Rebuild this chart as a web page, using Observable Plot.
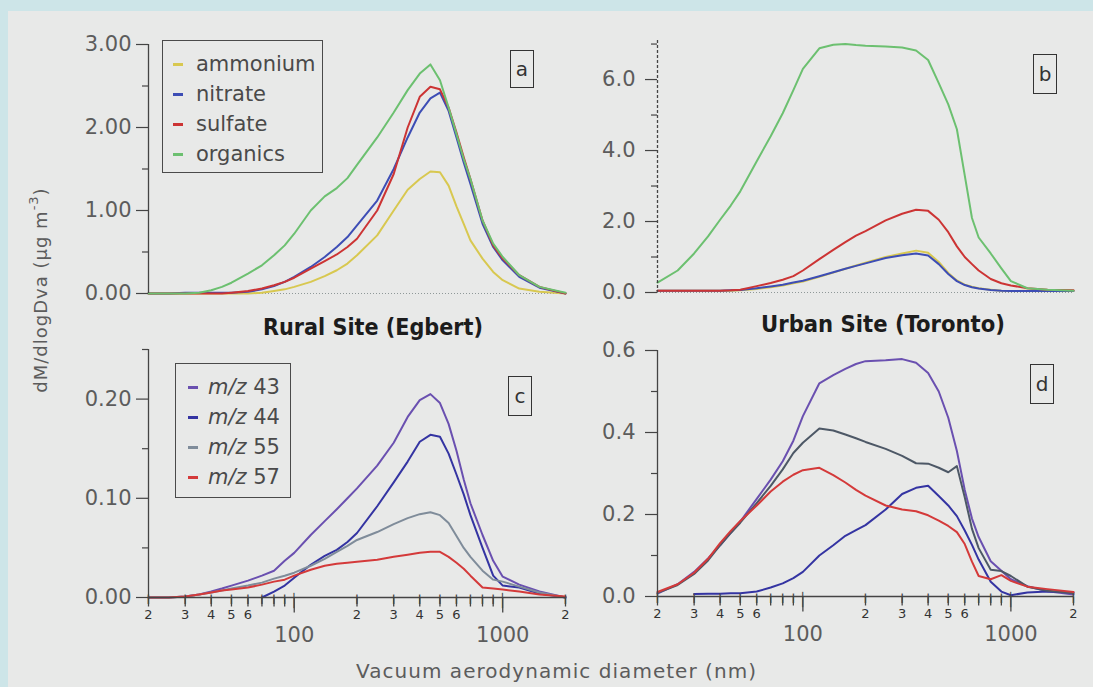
<!DOCTYPE html>
<html>
<head>
<meta charset="utf-8">
<script src="https://cdn.jsdelivr.net/npm/d3@7"></script>
<script src="https://cdn.jsdelivr.net/npm/@observablehq/plot@0.6"></script>
<style>
  html, body { margin: 0; padding: 0; background: #cde5e8; }
  #wrap { position: relative; width: 1093px; height: 687px; overflow: hidden; }
  #inner { position: absolute; left: 8px; top: 11px; right: 0; bottom: 0; background: #e8e9e8; }
  .panel { position: absolute; }
  .legend { position: absolute; border: 1.5px solid #4a4a4a; box-sizing: border-box;
            font-family: "DejaVu Sans", sans-serif; font-size: 21px; color: #4a4a4a; }
  .row { position: absolute; left: 0; height: 30px; line-height: 30px; white-space: nowrap; }
  .dash { position: absolute; top: 14px; width: 10px; height: 3px; }
  .tag { position: absolute; border: 1.5px solid #333; box-sizing: border-box;
         font-family: "DejaVu Sans", sans-serif; font-size: 20px; color: #333;
         display: flex; align-items: center; justify-content: center; }
  #ov { position: absolute; left: 0; top: 0; pointer-events: none; }
</style>
</head>
<body>
<div id="wrap">
  <div id="inner"></div>
</div>
<script>
// ---------------- data ----------------
const diam = [20,25,30,35,40,45,50,60,70,80,90,100,120,140,160,180,200,250,300,350,400,450,500,550,600,650,700,800,900,1000,1200,1500,2000];

// panel a : Rural site (Egbert), species
const speciesNames = ["ammonium", "nitrate", "sulfate", "organics"];
const speciesColors = ["#d8c850", "#3d4db5", "#cc3434", "#6cc070"];
const ammoniumA = [0,0,0,0,0,0,0,0,0.01,0.03,0.05,0.08,0.14,0.21,0.28,0.36,0.46,0.70,1.00,1.25,1.38,1.47,1.46,1.30,1.05,0.84,0.64,0.42,0.26,0.16,0.06,0.02,0];
const nitrateA  = [0,0,0.01,0.01,0.01,0.01,0.01,0.02,0.05,0.09,0.14,0.20,0.32,0.44,0.56,0.68,0.82,1.12,1.50,1.88,2.18,2.35,2.42,2.20,1.88,1.58,1.32,0.84,0.56,0.40,0.20,0.07,0];
const sulfateA  = [0,0,0,0,0,0,0.01,0.03,0.06,0.10,0.14,0.19,0.30,0.39,0.47,0.56,0.66,1.00,1.44,2.00,2.37,2.49,2.46,2.24,1.94,1.64,1.38,0.88,0.58,0.42,0.22,0.08,0];
const organicsA = [0,0,0,0.01,0.04,0.08,0.13,0.24,0.34,0.46,0.58,0.72,1.00,1.17,1.27,1.39,1.55,1.88,2.18,2.45,2.65,2.76,2.57,2.24,1.92,1.62,1.38,0.88,0.60,0.44,0.22,0.08,0.01];

// panel b : Urban site (Toronto), species
const ammoniumB = [0.05,0.05,0.05,0.05,0.05,0.05,0.06,0.10,0.15,0.20,0.26,0.31,0.44,0.56,0.67,0.76,0.84,1.00,1.10,1.18,1.12,0.86,0.55,0.34,0.22,0.16,0.12,0.08,0.05,0.04,0.05,0.06,0.05];
const nitrateB  = [0.05,0.05,0.05,0.05,0.05,0.06,0.07,0.12,0.17,0.22,0.28,0.33,0.46,0.57,0.67,0.75,0.82,0.97,1.05,1.10,1.04,0.80,0.52,0.32,0.21,0.15,0.11,0.07,0.05,0.04,0.04,0.04,0.04];
const sulfateB  = [0.05,0.05,0.05,0.05,0.05,0.06,0.08,0.18,0.27,0.36,0.46,0.62,0.94,1.20,1.42,1.60,1.73,2.03,2.22,2.33,2.30,2.05,1.70,1.30,1.00,0.80,0.62,0.38,0.26,0.20,0.12,0.08,0.06];
const organicsB = [0.28,0.62,1.10,1.58,2.05,2.45,2.85,3.70,4.40,5.05,5.70,6.30,6.88,6.98,7.00,6.97,6.95,6.93,6.90,6.82,6.55,5.90,5.30,4.60,3.30,2.10,1.55,1.10,0.68,0.32,0.12,0.08,0.05];

// panel c : Rural site, m/z fragments
const fragNames = ["m/z 43", "m/z 44", "m/z 55", "m/z 57"];
const fragColorsC = ["#6a50b0", "#3434a2", "#7f8c9a", "#d43a3a"];
const fragColorsD = ["#6a50b0", "#3434a2", "#4d5866", "#d43a3a"];
const mz43C = [0,0,0.001,0.003,0.006,0.009,0.012,0.017,0.022,0.027,0.037,0.045,0.063,0.077,0.089,0.100,0.110,0.133,0.156,0.182,0.199,0.205,0.196,0.175,0.148,0.119,0.095,0.063,0.037,0.021,0.013,0.006,0];
const mz44C = [null,null,null,null,null,null,null,null,0.0,0.006,0.012,0.020,0.033,0.042,0.048,0.056,0.065,0.092,0.116,0.137,0.157,0.164,0.162,0.145,0.124,0.104,0.083,0.050,0.022,0.012,0.010,0.004,0];
const mz55C = [0,0,0.001,0.003,0.005,0.007,0.009,0.012,0.015,0.019,0.022,0.025,0.032,0.039,0.046,0.052,0.058,0.066,0.074,0.080,0.084,0.086,0.083,0.075,0.062,0.050,0.041,0.027,0.018,0.016,0.011,0.005,0];
const mz57C = [0,0,0.001,0.003,0.005,0.007,0.008,0.010,0.013,0.016,0.018,0.022,0.028,0.032,0.034,0.035,0.036,0.038,0.041,0.043,0.045,0.046,0.046,0.041,0.035,0.029,0.022,0.010,0.009,0.008,0.006,0.003,0.001];

// panel d : Urban site, m/z fragments
const mz43D = [0.007,0.030,0.060,0.093,0.125,0.155,0.183,0.238,0.285,0.330,0.380,0.440,0.520,0.540,0.555,0.567,0.574,0.576,0.579,0.570,0.545,0.500,0.436,0.355,0.260,0.190,0.145,0.086,0.063,0.042,0.025,0.013,0.005];
const mz44D = [null,null,0.006,0.007,0.007,0.008,0.008,0.012,0.022,0.032,0.045,0.060,0.100,0.125,0.148,0.162,0.174,0.212,0.250,0.265,0.270,0.245,0.222,0.196,0.161,0.126,0.090,0.036,0.012,0.003,0.010,0.012,0.010];
const mz55D = [0.009,0.028,0.055,0.088,0.125,0.155,0.180,0.228,0.270,0.310,0.350,0.375,0.410,0.405,0.395,0.386,0.377,0.360,0.343,0.325,0.324,0.314,0.303,0.318,0.242,0.165,0.118,0.065,0.062,0.050,0.024,0.014,0.008];
const mz57D = [0.011,0.030,0.058,0.092,0.130,0.160,0.184,0.222,0.256,0.280,0.297,0.308,0.314,0.296,0.278,0.260,0.246,0.222,0.212,0.208,0.198,0.185,0.172,0.157,0.128,0.085,0.050,0.042,0.052,0.038,0.024,0.018,0.011];

// ticks
const yTicksA = [0, 1, 2, 3],        yMinorA = [0.5, 1.5, 2.5];
const yTicksB = [0, 2, 4, 6],        yMinorB = [1, 3, 5, 7];
const yTicksC = [0, 0.1, 0.2],       yMinorC = [0.05, 0.15, 0.25];
const yTicksD = [0, 0.2, 0.4, 0.6],  yMinorD = [0.1, 0.3, 0.5];
const xMinor = [20,30,40,50,60,70,80,90,200,300,400,500,600,700,800,900,2000];
const xMinorLabeled = [20,30,40,50,60,200,300,400,500,600,2000];
const xMajor = [100, 1000];

// ---------------- drawing ----------------
const wrap = document.getElementById("wrap");

function build(cfg) {
  const rows = [];
  cfg.series.forEach((vals, i) => vals.forEach((v, j) => {
    if (v != null) rows.push({d: diam[j], v, s: cfg.names[i]});
  }));
  const frameH = cfg.height - cfg.mT - cfg.mB;
  const perPx = (cfg.yDomain[1] - cfg.yDomain[0]) / frameH; // data units per pixel
  const marks = [];
  if (cfg.dotted) marks.push(Plot.ruleY([0], {stroke: "#8f9898", strokeWidth: 1, strokeDasharray: "1,2"}));
  marks.push(Plot.line(rows, {x: "d", y: "v", z: "s", stroke: "s", strokeWidth: 2, strokeLinejoin: "round"}));
  const axisOpts = {stroke: "#444", strokeWidth: 1.3};
  if (cfg.dashedAxis) axisOpts.strokeDasharray = "3,2";
  marks.push(Plot.ruleX([20], axisOpts));
  marks.push(Plot.axisY(cfg.yMajor, {tickSize: cfg.tickLen, tickPadding: cfg.pad, tickFormat: cfg.fmt,
                                     fontSize: 21, color: "#5c5c5c", stroke: "#444", strokeWidth: 1.2, label: null}));
  marks.push(Plot.axisY(cfg.yMinor, {tickSize: 6, tickFormat: () => "", stroke: "#444", strokeWidth: 1.2, label: null}));
  if (cfg.xAxis) {
    marks.push(Plot.ruleY([0], {stroke: "#444", strokeWidth: 1.3}));
    // tick marks hanging below the x axis
    marks.push(Plot.link(xMinor, {x1: d => d, x2: d => d, y1: () => 0, y2: () => -9 * perPx,
                                  stroke: "#444", strokeWidth: 1.3}));
    marks.push(Plot.link(xMajor, {x1: d => d, x2: d => d, y1: () => 0, y2: () => -15 * perPx,
                                  stroke: "#444", strokeWidth: 1.3}));
    marks.push(Plot.text(xMinor, {x: d => d, text: () => "┃", frameAnchor: "bottom", dy: 4.5,
                                  fontSize: 8, fill: "#444", fontFamily: "DejaVu Sans"}));
    marks.push(Plot.text(xMajor, {x: d => d, text: () => "│", frameAnchor: "bottom", dy: 7.5,
                                  fontSize: 13, fill: "#444", fontFamily: "DejaVu Sans"}));
    marks.push(Plot.text(xMinorLabeled, {x: d => d, text: d => String(d)[0], frameAnchor: "bottom",
                                         dy: 21, fontSize: 13, fill: "#333"}));
    marks.push(Plot.text(xMajor, {x: d => d, text: d => String(d), frameAnchor: "bottom",
                                  dy: 44, fontSize: 21, fill: "#5c5c5c"}));
  }
  const svg = Plot.plot({
    width: cfg.width, height: cfg.height,
    marginLeft: cfg.mL, marginRight: cfg.mR, marginTop: cfg.mT, marginBottom: cfg.mB,
    style: {background: "transparent", fontFamily: "DejaVu Sans, sans-serif", overflow: "visible"},
    x: {type: "log", domain: [20, 2000], axis: null},
    y: {domain: cfg.yDomain, axis: null, clamp: false},
    color: {domain: cfg.names, range: cfg.colors},
    marks
  });
  const div = document.createElement("div");
  div.className = "panel";
  div.style.left = cfg.left + "px";
  div.style.top = cfg.top + "px";
  div.appendChild(svg);
  wrap.appendChild(div);
}

build({left: 60, top: 20, width: 530, height: 290, mL: 88, mR: 25, mT: 24, mB: 17,
       yDomain: [0, 3], yMajor: yTicksA, yMinor: yMinorA, fmt: d3.format(".2f"), tickLen: 12, pad: 5,
       series: [ammoniumA, nitrateA, sulfateA, organicsA], names: speciesNames, colors: speciesColors,
       dotted: true, xAxis: false});

build({left: 570, top: 20, width: 515, height: 290, mL: 87, mR: 12, mT: 20, mB: 18,
       yDomain: [0, 7.1], yMajor: yTicksB, yMinor: yMinorB, fmt: d3.format(".1f"), tickLen: 12, pad: 10,
       series: [ammoniumB, nitrateB, sulfateB, organicsB], names: speciesNames, colors: speciesColors,
       dotted: true, dashedAxis: true, xAxis: false});

build({left: 60, top: 330, width: 530, height: 345, mL: 88, mR: 25, mT: 19, mB: 78,
       yDomain: [0, 0.25], yMajor: yTicksC, yMinor: yMinorC, fmt: d3.format(".2f"), tickLen: 12, pad: 5,
       series: [mz43C, mz44C, mz55C, mz57C], names: fragNames, colors: fragColorsC,
       dotted: false, xAxis: true});

build({left: 570, top: 330, width: 515, height: 345, mL: 87, mR: 12, mT: 20, mB: 79,
       yDomain: [0, 0.6], yMajor: yTicksD, yMinor: yMinorD, fmt: d3.format(".1f"), tickLen: 12, pad: 10,
       series: [mz43D, mz44D, mz55D, mz57D], names: fragNames, colors: fragColorsD,
       dotted: false, xAxis: true});

// legends
function legend(left, top, w, h, names, colors, dashX, textX, italic) {
  const box = document.createElement("div");
  box.className = "legend";
  Object.assign(box.style, {left: left + "px", top: top + "px", width: w + "px", height: h + "px"});
  names.forEach((n, i) => {
    const row = document.createElement("div");
    row.className = "row";
    row.style.top = (8 + i * 30) + "px";
    row.style.width = w + "px";
    const dash = document.createElement("div");
    dash.className = "dash";
    dash.style.left = dashX + "px";
    dash.style.background = colors[i];
    const t = document.createElement("span");
    t.style.position = "absolute";
    t.style.left = textX + "px";
    if (italic) {
      const parts = n.split(" ");
      t.innerHTML = '<i>' + parts[0] + '</i> ' + parts[1];
    } else t.textContent = n;
    row.appendChild(dash); row.appendChild(t);
    box.appendChild(row);
  });
  wrap.appendChild(box);
}
legend(162, 40, 161, 133, speciesNames, speciesColors, 10, 33, false);
legend(175, 363, 116, 135, fragNames, fragColorsC, 12, 32, true);

// panel tags
[["a", 510, 50, 24, 38], ["b", 1033, 54, 24, 40], ["c", 508, 376, 24, 40], ["d", 1030, 364, 24, 40]]
  .forEach(([t, l, tp, w, h]) => {
    const el = document.createElement("div");
    el.className = "tag";
    Object.assign(el.style, {left: l + "px", top: tp + "px", width: w + "px", height: h + "px"});
    el.textContent = t;
    wrap.appendChild(el);
  });

// titles and axis labels
const ns = "http://www.w3.org/2000/svg";
const ov = document.createElementNS(ns, "svg");
ov.setAttribute("id", "ov");
ov.setAttribute("width", 1093);
ov.setAttribute("height", 687);
function txt(content, attrs) {
  const t = document.createElementNS(ns, "text");
  for (const k in attrs) t.setAttribute(k, attrs[k]);
  t.innerHTML = content;
  ov.appendChild(t);
  return t;
}
const titleFont = '"Liberation Sans Narrow", "DejaVu Sans Condensed", "Liberation Sans", sans-serif';
txt("Rural Site (Egbert)", {x: 373, y: 335, "text-anchor": "middle", "font-family": titleFont,
    "font-weight": "bold", "font-size": 23, fill: "#1c1c1c", textLength: 220, lengthAdjust: "spacingAndGlyphs"});
txt("Urban Site (Toronto)", {x: 883, y: 332, "text-anchor": "middle", "font-family": titleFont,
    "font-weight": "bold", "font-size": 23, fill: "#1c1c1c", textLength: 244, lengthAdjust: "spacingAndGlyphs"});
txt("Vacuum aerodynamic diameter (nm)", {x: 556, y: 678, "text-anchor": "middle",
    "font-family": "DejaVu Sans, sans-serif", "font-size": 20, fill: "#5c5c5c",
    textLength: 400, lengthAdjust: "spacing"});
txt('dM/dlogDva (μg m<tspan dy="-9" font-size="13">-3</tspan><tspan dy="9">)</tspan>',
    {transform: "translate(47,290) rotate(-90)", "text-anchor": "middle",
     "font-family": "DejaVu Sans, sans-serif", "font-size": 18, fill: "#5c5c5c", "letter-spacing": 1});
wrap.appendChild(ov);
</script>
</body>
</html>
